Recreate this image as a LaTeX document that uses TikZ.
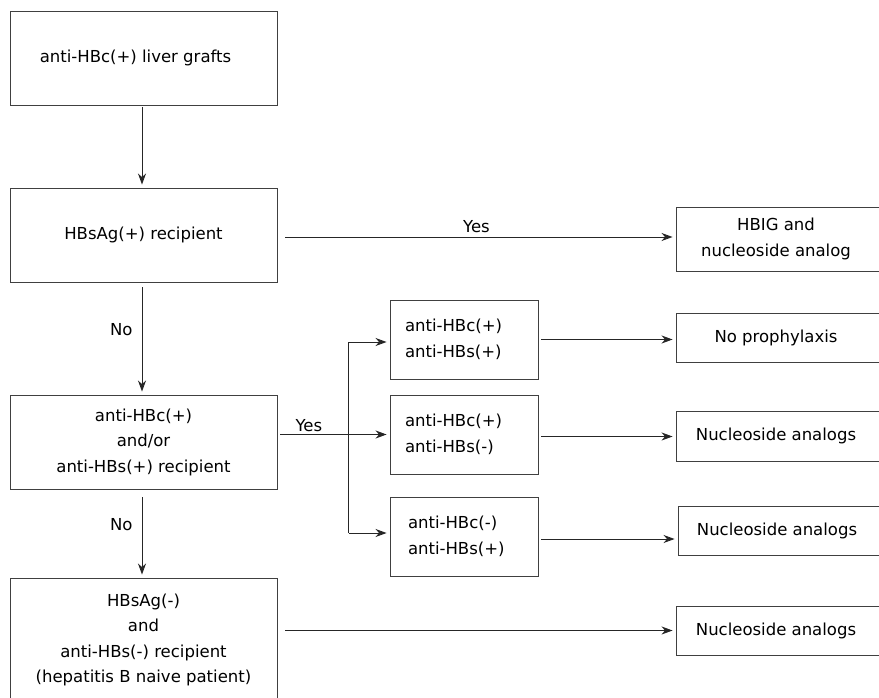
\documentclass[tikz,border=0pt]{standalone}
\usepackage{fontspec}
\setmainfont{DejaVu Sans}
\usetikzlibrary{arrows.meta}
\begin{document}
\begin{tikzpicture}[x=1pt,y=1pt,
  every node/.style={font=\fontsize{16.5}{25.5}\selectfont},
  box/.style={draw=black!75,line width=0.9pt,inner sep=0pt,align=center},
  mbox/.style={box,align=left,minimum width=148pt,minimum height=79pt,text width=118pt,inner xsep=15pt},
  arr/.style={draw=black!85,line width=0.9pt,-{Stealth[length=11pt,width=8pt,inset=3.5pt]},shorten >=3pt},
  lbl/.style={inner sep=1pt}]
\useasboundingbox (0,0) rectangle (879,-698);
\clip (0,0) rectangle (879,-698);
% left column
\node[box,minimum width=267pt,minimum height=94pt] (b1) at (143.5,-58) {\hspace*{-16pt}anti-HBc(+) liver grafts};
\node[box,minimum width=267pt,minimum height=94pt] (b2) at (143.5,-235) {HBsAg(+) recipient};
\node[box,minimum width=267pt,minimum height=94pt] (b3) at (143.5,-442) {anti-HBc(+)\\and/or\\anti-HBs(+) recipient};
\node[box,minimum width=267pt,minimum height=124pt] (b4) at (143.5,-640) {HBsAg(-)\\and\\anti-HBs(-) recipient\\(hepatitis B naive patient)};
% middle column
\node[mbox] (ma) at (464,-339.5) {anti-HBc(+)\\anti-HBs(+)};
\node[mbox] (mb) at (464,-434.5) {anti-HBc(+)\\anti-HBs(-)};
\node[mbox,text width=112pt,inner xsep=18pt] (mc) at (464,-536.5) {anti-HBc(-)\\anti-HBs(+)};
% right column
\node[box,minimum width=210pt,minimum height=64pt] (ra) at (781,-239) {\hspace*{-10pt}HBIG and\\\hspace*{-10pt}nucleoside analog};
\node[box,minimum width=210pt,minimum height=49pt] (rb) at (781,-337.5) {\hspace*{-10pt}No prophylaxis};
\node[box,minimum width=210pt,minimum height=50pt] (rc) at (781,-436) {\hspace*{-10pt}Nucleoside analogs};
\node[box,minimum width=208pt,minimum height=49pt] (rd) at (782,-530.5) {\hspace*{-10pt}Nucleoside analogs};
\node[box,minimum width=210pt,minimum height=49pt] (re) at (781,-630.5) {\hspace*{-10pt}Nucleoside analogs};
% connectors
\draw[arr,shorten <=2pt] ([xshift=-1.5pt]b1.south) -- ([xshift=-1.5pt]b2.north);
\draw[arr,shorten <=8pt] ([yshift=-2pt]b2.east) -- ([yshift=-2pt]b2.east -| ra.west)
  node[lbl,pos=0.5,above=3pt] {Yes};
\draw[arr,shorten <=5pt] ([xshift=-1.5pt]b2.south) -- ([xshift=-1.5pt]b3.north)
  node[lbl,pos=0.42,left=8pt] {No};
\draw[arr,shorten <=8pt] ([xshift=-1.5pt]b3.south) -- ([xshift=-1.5pt]b4.north)
  node[lbl,pos=0.4,left=8pt] {No};
\coordinate (jt) at ([xshift=-41pt,yshift=-2.5pt]ma.west);
\coordinate (jb) at ([xshift=-41pt,yshift=3.5pt]mc.west);
\draw[arr,shorten <=3pt] (b3.east |- mb.west) -- (mb.west)
  node[lbl,pos=0.28,above=1pt] {Yes};
\draw[draw=black!85,line width=0.9pt] (jt) -- (jb);
\draw[arr] (jt) -- (jt -| ma.west);
\draw[arr] (jb) -- (jb -| mc.west);
\draw[arr,shorten <=3pt] (ma.east) -- (ma.east -| rb.west);
\draw[arr,shorten <=3pt] ([yshift=-2pt]mb.east) -- ([yshift=-2pt]mb.east -| rc.west);
\draw[arr,shorten <=3pt] ([yshift=-2.5pt]mc.east) -- ([yshift=-2.5pt]mc.east -| rd.west);
\draw[arr,shorten <=8pt] (b4.east |- re.west) -- (re.west);
\end{tikzpicture}
\end{document}
